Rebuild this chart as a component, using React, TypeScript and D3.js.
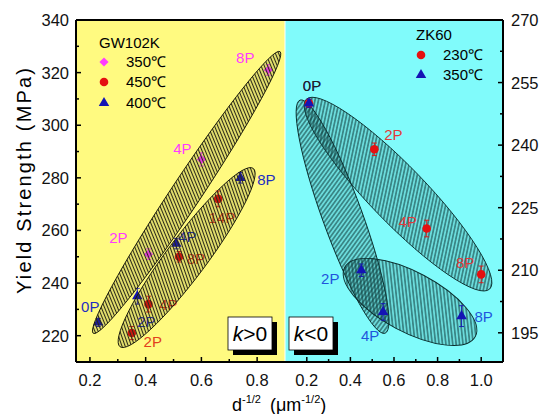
import React from "react";
import * as d3 from "d3";

// GW102K (left panel, left axis)
const gw350 = [
  { x: 0.41, y: 251, err: 2, label: "2P" },
  { x: 0.6, y: 287, err: 2.5, label: "4P" },
  { x: 0.84, y: 321, err: 2, label: "8P" },
];
const gw450 = [
  { x: 0.35, y: 221, err: 2.5, label: "2P" },
  { x: 0.41, y: 232, err: 3, label: "4P" },
  { x: 0.52, y: 250, err: 2, label: "8P" },
  { x: 0.66, y: 272, err: 3, label: "14P" },
];
const gw400 = [
  { x: 0.23, y: 225, err: 1.5, label: "0P" },
  { x: 0.37, y: 235, err: 3, label: "2P" },
  { x: 0.51, y: 255, err: 2, label: "4P" },
  { x: 0.74, y: 280, err: 2, label: "8P" },
];

// ZK60 (right panel, right axis)
const zk230 = [
  { x: 0.21, y: 250, err: 1, label: "" },
  { x: 0.51, y: 239, err: 1.5, label: "2P" },
  { x: 0.75, y: 220, err: 2, label: "4P" },
  { x: 1.0, y: 209, err: 2, label: "8P" },
];
const zk350 = [
  { x: 0.21, y: 250, err: 1, label: "0P" },
  { x: 0.45, y: 210, err: 1.5, label: "2P" },
  { x: 0.55, y: 200, err: 2, label: "4P" },
  { x: 0.91, y: 199, err: 2.5, label: "8P" },
];

// label offsets (px) per point
const gw350Shift = [[-30, -16], [-19, -11], [-23, -12]];
const gw450Shift = [[21, 9], [20, 1], [17, 2], [4, 19]];
const gw400Shift = [[-8, -16], [9, 26], [11, -7], [26, 2]];
const zk230Shift = [[0, 0], [19, -15], [-19, -7], [-16, -12]];
const zk350Shift = [[3, -18], [-31, 9], [-13, 24], [22, 1]];

// hatched ellipses, tips in data units, minor/major ratio
const gwEllipses = [
  { x1: 0.212, y1: 220.9, x2: 0.882, y2: 328, ratio: 0.088 },
  { x1: 0.308, y1: 215.8, x2: 0.786, y2: 283.6, ratio: 0.18 },
];
const zkEllipses = [
  { x1: 0.198, y1: 251, x2: 1.039, y2: 205.5, ratio: 0.212 },
  { x1: 0.169, y1: 250.8, x2: 0.559, y2: 194.9, ratio: 0.16 },
  { x1: 0.374, y1: 210.7, x2: 0.973, y2: 194.1, ratio: 0.405 },
];

const yLTicks = [220, 240, 260, 280, 300, 320, 340];
const yLMinor = [230, 250, 270, 290, 310, 330];
const yRTicks = [195, 210, 225, 240, 255, 270];
const yRMinor = [202.5, 217.5, 232.5, 247.5, 262.5];
const xLTicks = [0.2, 0.4, 0.6, 0.8];
const xLMinor = [0.3, 0.5, 0.7];
const xRTicks = [0.2, 0.4, 0.6, 0.8, 1.0];
const xRMinor = [0.3, 0.5, 0.7, 0.9];

const FONT = "'Liberation Sans', Arial, sans-serif";
const MAG = "#ff3cff";
const RED = "#e41010";
const BLUE = "#1414b4";

const square = d3.symbol().type(d3.symbolSquare).size(42)();
const triangle = d3.symbol().type(d3.symbolTriangle).size(48)();

function Marker({ kind, color, x, y }) {
  if (kind === "circle") return <circle cx={x} cy={y} r={4.3} fill={color} />;
  if (kind === "diamond")
    return <path d={square} transform={`translate(${x},${y}) rotate(45)`} fill={color} />;
  return <path d={triangle} transform={`translate(${x},${y})`} fill={color} />;
}

function Series({ data, xs, ys, kind, color, labelColor, shift }) {
  return (
    <g>
      {data.map((d, i) => {
        const x = xs(d.x), y = ys(d.y);
        const y0 = ys(d.y - d.err), y1 = ys(d.y + d.err);
        return (
          <g key={i}>
            <g stroke={color} strokeWidth={0.9}>
              <line x1={x} x2={x} y1={y0} y2={y1} />
              <line x1={x - 2.5} x2={x + 2.5} y1={y0} y2={y0} />
              <line x1={x - 2.5} x2={x + 2.5} y1={y1} y2={y1} />
            </g>
            <Marker kind={kind} color={color} x={x} y={y} />
            {d.label && (
              <text x={x + shift[i][0]} y={y + shift[i][1]} dy="0.35em" textAnchor="middle"
                fontSize={15} fill={labelColor} fontFamily={FONT}>{d.label}</text>
            )}
          </g>
        );
      })}
    </g>
  );
}

function Ellipse({ e, xs, ys, fill, stroke }) {
  const px1 = xs(e.x1), py1 = ys(e.y1), px2 = xs(e.x2), py2 = ys(e.y2);
  const cx = (px1 + px2) / 2, cy = (py1 + py2) / 2;
  const a = Math.hypot(px2 - px1, py2 - py1) / 2;
  const ang = (Math.atan2(py2 - py1, px2 - px1) * 180) / Math.PI;
  return (
    <ellipse cx={cx} cy={cy} rx={a} ry={a * e.ratio} fill={fill} stroke={stroke} strokeWidth={0.9}
      transform={`rotate(${ang},${cx},${cy})`} />
  );
}

function KBox({ x, y, sign }) {
  return (
    <g fontFamily={FONT}>
      <rect x={x + 5} y={y + 5} width={44} height={33} fill="#000" />
      <rect x={x} y={y} width={44} height={33} fill="#fff" stroke="#000" strokeWidth={0.8} />
      <text x={x + 22} y={y + 24} textAnchor="middle" fontSize={21}>
        <tspan fontStyle="italic">k</tspan>{sign}0
      </text>
    </g>
  );
}

export default function App() {
  const L = 76, R = 503, T = 20, B = 362, MID = 285;
  const xL = d3.scaleLinear().domain([0.15, 0.9]).range([L, MID]);
  const yL = d3.scaleLinear().domain([210, 340]).range([B, T]);
  const xR = d3.scaleLinear().domain([0.1, 1.1]).range([MID, R]);
  const yR = d3.scaleLinear().domain([188, 270]).range([B, T]);

  return (
    <svg width={542} height={414} style={{ position: "absolute", left: 0, top: 0, background: "#fff" }}
      fontFamily={FONT}>
      <defs>
        <pattern id="hatchL" width={3} height={3} patternUnits="userSpaceOnUse" patternTransform="rotate(-56)">
          <rect width={3} height={3} fill="rgba(70,70,0,0.16)" />
          <line x1={0} x2={3} y1={1.5} y2={1.5} stroke="#2a2a18" strokeWidth={1} />
        </pattern>
        <pattern id="hatchR" width={3.4} height={3.4} patternUnits="userSpaceOnUse" patternTransform="rotate(56)">
          <rect width={3.4} height={3.4} fill="rgba(0,55,55,0.16)" />
          <line x1={0} x2={3.4} y1={1.7} y2={1.7} stroke="#124040" strokeWidth={0.95} />
        </pattern>
        <clipPath id="clipL"><rect x={L} y={T} width={MID - L} height={B - T} /></clipPath>
        <clipPath id="clipR"><rect x={MID} y={T} width={R - MID} height={B - T} /></clipPath>
      </defs>

      <rect x={L} y={T} width={MID - L - 0.5} height={B - T} fill="#fffa80" />
      <rect x={MID + 0.5} y={T} width={R - MID - 0.5} height={B - T} fill="#80fbfb" />

      {/* legends */}
      <text x={99} y={48} fontSize={15}>GW102K</text>
      <Marker kind="diamond" color={MAG} x={104} y={62} />
      <Marker kind="circle" color={RED} x={104} y={82} />
      <Marker kind="triangle" color={BLUE} x={104} y={103} />
      <text x={126} y={67} fontSize={15}>350℃</text>
      <text x={126} y={87} fontSize={15}>450℃</text>
      <text x={126} y={108} fontSize={15}>400℃</text>

      <text x={416} y={40} fontSize={15}>ZK60</text>
      <Marker kind="circle" color={RED} x={421} y={55} />
      <Marker kind="triangle" color={BLUE} x={421} y={75} />
      <text x={443} y={60} fontSize={15}>230℃</text>
      <text x={443} y={80} fontSize={15}>350℃</text>

      <g clipPath="url(#clipL)">
        <Series data={gw350} xs={xL} ys={yL} kind="diamond" color={MAG} labelColor={MAG} shift={gw350Shift} />
        <Series data={gw450} xs={xL} ys={yL} kind="circle" color={RED} labelColor="#e2401c" shift={gw450Shift} />
        <Series data={gw400} xs={xL} ys={yL} kind="triangle" color={BLUE} labelColor="#1e2ec0" shift={gw400Shift} />
        {gwEllipses.map((e, i) => (
          <Ellipse key={i} e={e} xs={xL} ys={yL} fill="url(#hatchL)" stroke="#1a1a0a" />
        ))}
      </g>

      <g clipPath="url(#clipR)">
        {zkEllipses.map((e, i) => (
          <Ellipse key={i} e={e} xs={xR} ys={yR} fill="url(#hatchR)" stroke="#0a2e2e" />
        ))}
        <Series data={zk230} xs={xR} ys={yR} kind="circle" color={RED} labelColor="#e03a3a" shift={zk230Shift} />
        <Series data={zk350} xs={xR} ys={yR} kind="triangle" color={BLUE} labelColor="#1f55dc" shift={zk350Shift} />
      </g>
      <text x={xR(zk350[0].x) + zk350Shift[0][0]} y={yR(zk350[0].y) + zk350Shift[0][1]} dy="0.35em"
        textAnchor="middle" fontSize={15} fill="#222">0P</text>

      <KBox x={228} y={317} sign=">" />
      <KBox x={289} y={317} sign="<" />

      {/* frame */}
      <g stroke="#000" strokeWidth={2} fill="none">
        <line x1={L} x2={R} y1={T} y2={T} />
        <line x1={L} x2={R} y1={B} y2={B} />
        <line x1={L} x2={L} y1={T} y2={B} />
        <line x1={R} x2={R} y1={T} y2={B} />
      </g>

      {/* ticks */}
      <g stroke="#000" strokeWidth={1.5}>
        {yLTicks.map((t) => <line key={t} x1={L} x2={L + 5} y1={yL(t)} y2={yL(t)} />)}
        {yLMinor.map((t) => <line key={t} x1={L} x2={L + 3} y1={yL(t)} y2={yL(t)} />)}
        {yRTicks.map((t) => <line key={t} x1={R} x2={R - 5} y1={yR(t)} y2={yR(t)} />)}
        {yRMinor.map((t) => <line key={t} x1={R} x2={R - 3} y1={yR(t)} y2={yR(t)} />)}
        {xLTicks.map((t) => <line key={t} x1={xL(t)} x2={xL(t)} y1={B} y2={B - 5} />)}
        {xLMinor.map((t) => <line key={t} x1={xL(t)} x2={xL(t)} y1={B} y2={B - 3} />)}
        {xRTicks.map((t) => <line key={t} x1={xR(t)} x2={xR(t)} y1={B} y2={B - 5} />)}
        {xRMinor.map((t) => <line key={t} x1={xR(t)} x2={xR(t)} y1={B} y2={B - 3} />)}
      </g>

      <g fontSize={16.5} fill="#111">
        {yLTicks.map((t) => (
          <text key={t} x={L - 7} y={yL(t)} dy="0.36em" textAnchor="end">{t}</text>
        ))}
        {yRTicks.map((t) => (
          <text key={t} x={R + 8} y={yR(t)} dy="0.36em" textAnchor="start">{t}</text>
        ))}
        {xLTicks.map((t) => (
          <text key={t} x={xL(t)} y={386} textAnchor="middle">{d3.format(".1f")(t)}</text>
        ))}
        {xRTicks.map((t) => (
          <text key={t} x={xR(t)} y={386} textAnchor="middle">{d3.format(".1f")(t)}</text>
        ))}
      </g>

      <text transform="translate(31,181) rotate(-90)" textAnchor="middle" fontSize={20}
        textLength={226} lengthAdjust="spacing">Yield Strength (MPa)</text>

      <text x={232} y={411} fontSize={18}>
        d<tspan fontSize={11} dy={-8}>-1/2</tspan>
        <tspan fontSize={18} dx={9} dy={8}>(μm</tspan>
        <tspan fontSize={11} dy={-8}>-1/2</tspan>
        <tspan fontSize={18} dy={8}>)</tspan>
      </text>
    </svg>
  );
}
